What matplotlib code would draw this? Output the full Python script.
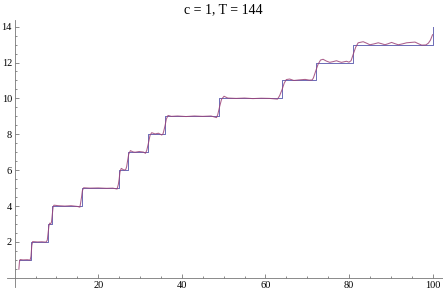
import matplotlib
matplotlib.use("Agg")
import matplotlib.pyplot as plt
from matplotlib.ticker import FixedLocator, NullFormatter

# step function: jump positions and level after each jump
jumps  = [1, 4, 8, 9, 16, 25, 27, 32, 36, 49, 64, 72, 81, 100]
levels = [1, 2, 3, 4, 5, 6, 7, 8, 9, 10, 11, 12, 13, 14]

# smooth approximation
approx_x = [1.0, 1.15, 1.3, 2.0, 3.0, 3.7, 3.9, 4.0, 4.1, 4.3, 5.5, 6.5, 7.5, 7.8, 8.0, 8.2, 8.4,
            8.6, 8.8, 9.0, 9.2, 9.4, 10.5, 12.0, 13.5, 15.0, 15.6, 15.8, 16.0, 16.2, 16.5, 18.0,
            20.0, 22.0, 23.5, 24.5, 24.8, 25.0, 25.2, 25.5, 26.2, 26.6, 26.8, 27.0, 27.3, 27.7,
            28.3, 28.8, 29.8, 30.8, 31.3, 31.6, 32.0, 32.4, 32.8, 33.6, 34.4, 35.2, 35.5, 35.7,
            36.0, 36.3, 36.7, 37.5, 39.0, 41.0, 43.0, 45.0, 47.0, 48.0, 48.3, 48.6, 49.0, 49.5,
            50.1, 51.0, 53.0, 55.0, 57.0, 59.0, 61.0, 62.5, 62.9, 63.4, 64.0, 64.5, 65.0, 65.8,
            66.8, 68.0, 69.5, 70.5, 71.2, 71.5, 72.0, 72.6, 73.2, 73.8, 74.6, 75.4, 76.2, 77.0,
            77.6, 78.2, 78.8, 79.4, 80.0, 80.5, 81.0, 81.6, 82.2, 83.4, 84.2, 85.0, 86.0, 87.0,
            87.8, 88.6, 89.4, 90.2, 91.0, 91.8, 92.8, 93.8, 94.8, 95.8, 96.6, 97.4, 98.4, 99.0,
            99.5, 100.0]
approx_y = [0.48, 0.9, 1.02, 1.0, 1.01, 0.99, 1.2, 1.5, 1.8, 2.02, 2.0, 2.01, 1.99, 2.1, 2.5, 2.9, 3.05,
            3.0, 3.1, 3.5, 3.95, 4.05, 4.02, 4.0, 4.02, 3.98, 3.94, 4.2, 4.5, 4.85, 5.02, 5.0,
            5.01, 4.99, 5.0, 4.95, 5.2, 5.5, 5.9, 6.1, 6.0, 6.05, 6.2, 6.5, 6.9, 7.09,
            7.02, 7.0, 7.04, 7.01, 6.94, 7.1, 7.5, 7.95, 8.09, 8.02, 8.06, 7.96, 8.03, 8.2,
            8.5, 8.85, 9.05, 9.0, 9.02, 8.99, 9.02, 9.0, 9.02, 8.95, 8.93, 9.1, 9.5, 9.95,
            10.12, 10.02, 10.0, 10.02, 9.99, 10.01, 10.0, 9.97, 9.96, 10.15, 10.5, 10.85, 11.05, 11.08,
            11.0, 11.03, 11.06, 11.02, 11.03, 11.15, 11.5, 11.9, 12.14, 12.18, 12.08, 12.01, 12.05, 12.1,
            12.05, 12.01, 12.04, 12.07, 12.02, 12.1, 12.45, 12.85, 13.1, 13.16, 13.08, 12.99, 13.04, 13.1,
            13.05, 12.99, 13.05, 13.12, 13.05, 12.99, 13.04, 13.1, 13.12, 13.14, 13.05, 12.97, 12.98, 13.08,
            13.25, 13.55]

x_major = [20, 40, 60, 80, 100]
x_minor = [5, 10, 15, 25, 30, 35, 45, 50, 55, 65, 70, 75, 85, 90, 95]
y_major = [2, 4, 6, 8, 10, 12, 14]
y_minor = [v / 2 for v in range(1, 29) if v % 4 != 0]

plt.rcParams["font.family"] = ["Liberation Serif", "DejaVu Serif"]

fig = plt.figure(figsize=(4.43, 2.95), dpi=100)
ax = fig.add_axes([6.7 / 443, 8 / 295, 436.3 / 443, 267 / 295])

ax.step(jumps, levels, where="post", color="#5151aa", lw=0.7, alpha=0.85)
ax.plot(approx_x, approx_y, color="#9c4277", lw=0.75, alpha=0.85)

ax.set_xlim(-1.91, 102.5)
ax.set_ylim(-0.51, 14.37)

for s in ["top", "right"]:
    ax.spines[s].set_visible(False)
ax.spines["left"].set_position(("data", 0))
ax.spines["bottom"].set_position(("data", 0))
for s in ["left", "bottom"]:
    ax.spines[s].set_color("#777777")
    ax.spines[s].set_linewidth(0.6)

ax.xaxis.set_major_locator(FixedLocator(x_major))
ax.xaxis.set_minor_locator(FixedLocator(x_minor))
ax.yaxis.set_major_locator(FixedLocator(y_major))
ax.yaxis.set_minor_locator(FixedLocator(y_minor))
ax.yaxis.set_minor_formatter(NullFormatter())

ax.tick_params(which="both", direction="in", color="#777777", width=0.6, labelsize=7.5)
ax.tick_params(which="major", length=3, pad=2)
ax.tick_params(which="minor", length=1.6)

fig.text(0.505, 1 - 10 / 295, "c = 1, T = 144", ha="center", va="center", fontsize=10)

fig.savefig("out.png", dpi=100)
